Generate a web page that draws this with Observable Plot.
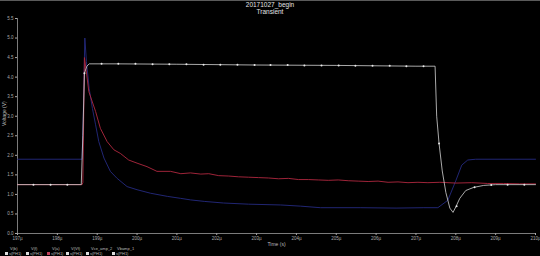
<!DOCTYPE html>
<html>
<head>
<meta charset="utf-8">
<script src="https://cdn.jsdelivr.net/npm/d3@7"></script>
<script src="https://cdn.jsdelivr.net/npm/@observablehq/plot@0.6"></script>
<style>
  html, body { margin: 0; padding: 0; background: #000; }
  body { width: 540px; height: 256px; overflow: hidden; position: relative; font-family: "Liberation Sans", Arial, sans-serif; border-top: 1px solid #5a5a5a; box-sizing: border-box; }
  #title { height: 13px; text-align: center; color: #e4e4e4; font-size: 6.5px; line-height: 6.5px; padding-top: 1px; }
  #legend { position: absolute; left: 0; top: 246px; height: 10px; width: 540px; }
  .entry { position: absolute; top: 0; color: #bbb; font-size: 4px; line-height: 4.5px; }
  .sw { display: inline-block; width: 3px; height: 3px; background: #ddd; margin-right: 1px; vertical-align: middle; }
</style>
</head>
<body>
<div id="title">20171027_begin<br>Transient</div>
<div id="chart"></div>
<div id="legend"></div>
<script>
// x values in µs, y in volts
const xTicks = [197,198,199,200,201,202,203,204,205,206,207,208,209,210];
const yTicks = [0,0.5,1,1.5,2,2.5,3,3.5,4,4.5,5,5.5];
const xLabel = "Time (s)";
const yLabel = "Voltage (V)";

const whiteT = [197,198.6,198.64,198.68,198.74,198.8,199.5,201,203,205,207,207.48,207.52,207.58,207.66,207.75,207.85,207.93,208.0,208.1,208.25,208.45,208.7,209,210];
const whiteV = [1.25,1.25,2.5,4.1,4.28,4.34,4.34,4.33,4.31,4.30,4.28,4.28,3.0,2.3,1.6,1.05,0.65,0.54,0.68,0.9,1.1,1.18,1.23,1.25,1.25];

const markT = [197.40,197.83,198.25,198.68,199.11,199.53,199.96,200.39,200.81,201.24,201.67,202.09,202.52,202.95,203.35,203.78,204.20,204.63,205.06,205.48,205.91,206.34,206.76,207.19,207.58,208.02,208.47,208.89,209.30,209.72];
const markV = [1.25,1.25,1.25,4.1,4.34,4.34,4.34,4.33,4.33,4.33,4.32,4.32,4.32,4.31,4.31,4.31,4.30,4.30,4.30,4.29,4.29,4.29,4.28,4.28,2.3,0.7,1.18,1.24,1.25,1.25];

const redT = [197,198.62,198.64,198.68,198.72,198.79,198.96,199.08,199.25,199.42,199.58,199.79,200.0,200.25,200.5,200.84,201.1,201.34,201.6,201.8,202.05,202.3,202.55,202.8,203.05,203.3,203.55,203.8,204.05,204.3,204.55,204.8,205.05,205.3,205.55,205.8,206.05,206.3,206.55,206.8,207.05,207.3,207.6,208,208.4,208.8,209.2,209.6,210];
const redV = [1.25,1.25,1.3,4.5,4.2,3.63,3.12,2.69,2.35,2.14,2.05,1.88,1.80,1.71,1.59,1.59,1.53,1.55,1.52,1.53,1.48,1.47,1.45,1.44,1.43,1.42,1.40,1.41,1.38,1.38,1.37,1.36,1.37,1.35,1.34,1.33,1.34,1.31,1.32,1.30,1.31,1.30,1.31,1.29,1.30,1.28,1.28,1.27,1.27];

const blueT = [197,198.62,198.65,198.69,198.73,198.8,198.88,198.96,199.04,199.17,199.33,199.5,199.75,200.0,200.34,200.76,201.09,201.34,201.7,202.17,202.8,203.6,204.1,204.6,205.6,206.5,207.2,207.55,207.8,208.0,208.15,208.3,208.5,210];
const blueV = [1.9,1.9,3.0,5.0,4.4,3.7,3.2,2.78,2.35,1.93,1.59,1.41,1.20,1.12,1.03,0.95,0.90,0.86,0.82,0.78,0.75,0.73,0.70,0.66,0.66,0.65,0.66,0.66,0.85,1.35,1.75,1.88,1.9,1.9];

const legendTop = ["V(b)","V(f)","V(a)","V(Vf)","Vce_amp_2","Vbamp_1"];
const legendBottom = ["s(PH1)","s(PH1)","s(PH1)","s(PH1)","s(PH1)","s(PH1)"];
const legendColors = ["#dddddd","#dddddd","#c0405a","#dddddd","#dddddd","#dddddd"];
const legendX = [5, 26, 47, 66, 86, 112];

const white = whiteT.map((t, i) => ({t, v: whiteV[i]}));
const marks = markT.map((t, i) => ({t, v: markV[i]}));
const red = redT.map((t, i) => ({t, v: redV[i]}));
const blue = blueT.map((t, i) => ({t, v: blueV[i]}));

const chart = Plot.plot({
  width: 540,
  height: 242,
  marginLeft: 17,
  marginRight: 5,
  marginTop: 3,
  marginBottom: 24,
  style: {background: "#000", color: "#aaa", fontSize: "4.5px", fontFamily: "Liberation Sans, Arial, sans-serif", overflow: "visible"},
  x: {domain: [197, 210], ticks: xTicks, tickFormat: d => d + "µ", tickSize: 2, tickPadding: 1, label: null},
  y: {domain: [0, 5.5], ticks: yTicks, tickFormat: d3.format(".1f"), tickSize: 2, tickPadding: 2, label: null},
  marks: [
    Plot.ruleX([197], {stroke: "#9a9a9a", strokeWidth: 0.8}),
    Plot.ruleY([0], {stroke: "#9a9a9a", strokeWidth: 0.8}),
    Plot.line(blue, {x: "t", y: "v", stroke: "#252a80", strokeWidth: 0.9}),
    Plot.line(red, {x: "t", y: "v", stroke: "#b02840", strokeWidth: 0.9}),
    Plot.line(white, {x: "t", y: "v", stroke: "#d4d4d4", strokeWidth: 0.8}),
    Plot.dot(marks, {x: "t", y: "v", r: 1, fill: "#e8e8e8"}),
    Plot.text([xLabel], {text: d => d, frameAnchor: "bottom", dy: 12, fill: "#bbb", fontSize: 5}),
    Plot.text([yLabel], {text: d => d, frameAnchor: "left", dx: -13, rotate: -90, fill: "#bbb", fontSize: 5})
  ]
});
document.getElementById("chart").appendChild(chart);

const leg = document.getElementById("legend");
legendTop.forEach((name, i) => {
  const e = document.createElement("div");
  e.className = "entry";
  e.style.left = legendX[i] + "px";
  e.innerHTML = `<div style="padding-left:5px">${name}</div><div><span class="sw" style="background:${legendColors[i]}"></span>${legendBottom[i]}</div>`;
  leg.appendChild(e);
});
</script>
</body>
</html>
